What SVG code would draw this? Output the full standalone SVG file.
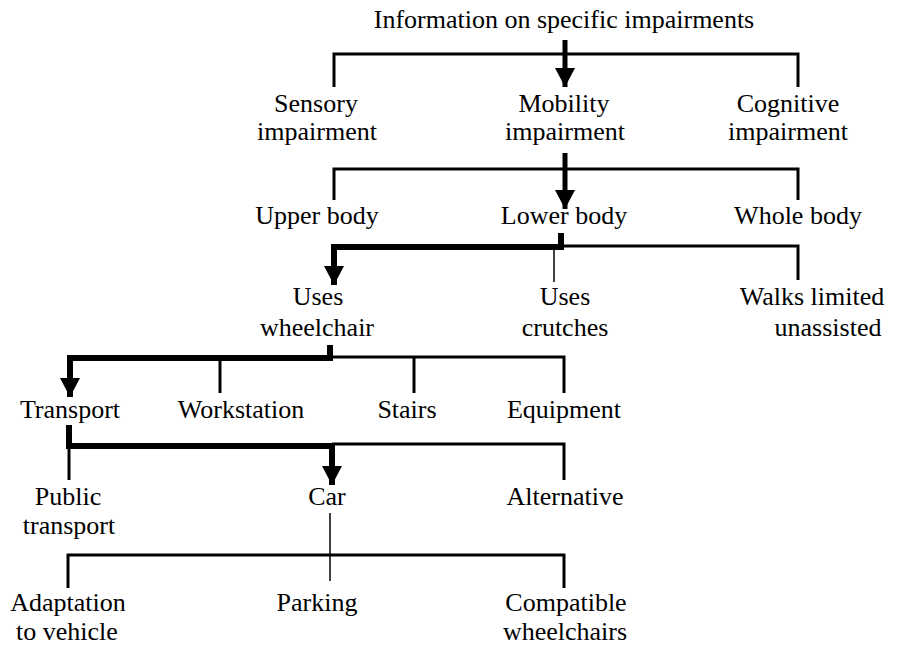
<svg xmlns="http://www.w3.org/2000/svg" width="907" height="646" viewBox="0 0 907 646">
  <style>
    text { font-family: "Liberation Serif", "Times New Roman", serif; font-size: 26px; fill: #000; text-anchor: middle; }
    .ln { fill: none; stroke: #000; stroke-width: 3; }
    .thin { fill: none; stroke: #000; stroke-width: 1.5; }
    .thick { fill: none; stroke: #000; stroke-width: 6; stroke-linejoin: miter; }
    .shaft { fill: none; stroke: #000; stroke-width: 5; }
  </style>
  <defs>
    <marker id="head" markerUnits="userSpaceOnUse" markerWidth="19" markerHeight="20" viewBox="0 0 19 20" refX="19" refY="10" orient="auto">
      <path d="M0,0 L19,10 L0,20 Z" fill="#000"/>
    </marker>
  </defs>
  <rect width="907" height="646" fill="#fff"/>
  <g id="connectors">
    <path class="ln" d="M334,87 V54 H798 V87"/>
    <path class="shaft" d="M565,40 V87" marker-end="url(#head)"/>
    <path class="ln" d="M334,200 V169 H798 V200"/>
    <path class="shaft" d="M565,153 V209" marker-end="url(#head)"/>
    <path class="ln" d="M561,246 H798 V280"/>
    <path class="thin" d="M554,249 V282"/>
    <path class="thick" d="M561,233 V247 H334 V285" marker-end="url(#head)"/>
    <path class="ln" d="M330,357 H564 V393"/>
    <path class="ln" d="M220,358 V393"/>
    <path class="ln" d="M414,357 V393"/>
    <path class="thick" d="M330,345 V358 H70 V397" marker-end="url(#head)"/>
    <path class="ln" d="M332,444 H564 V480"/>
    <path class="ln" d="M69,446 V480"/>
    <path class="thick" d="M69,425 V446 H332 V485" marker-end="url(#head)"/>
    <path class="thin" d="M330,513 V581"/>
    <path class="ln" d="M68,588 V555 H564 V588"/>
  </g>
  <g id="n-root"><text x="564" y="28">Information on specific impairments</text></g>
  <g id="n-sensory"><text x="316" y="112">Sensory</text><text x="317" y="140">impairment</text></g>
  <g id="n-mobility"><text x="564" y="112">Mobility</text><text x="565" y="140">impairment</text></g>
  <g id="n-cognitive"><text x="788" y="112">Cognitive</text><text x="788" y="140">impairment</text></g>
  <g id="n-upper"><text x="317" y="224">Upper body</text></g>
  <g id="n-lower"><text x="564" y="224">Lower body</text></g>
  <g id="n-whole"><text x="798" y="224">Whole body</text></g>
  <g id="n-wheelchair"><text x="318" y="305">Uses</text><text x="317" y="336">wheelchair</text></g>
  <g id="n-crutches"><text x="565" y="305">Uses</text><text x="565" y="336">crutches</text></g>
  <g id="n-walks"><text x="812" y="305">Walks limited</text><text x="828" y="336">unassisted</text></g>
  <g id="n-transport"><text x="70" y="418">Transport</text></g>
  <g id="n-workstation"><text x="241" y="418">Workstation</text></g>
  <g id="n-stairs"><text x="407" y="418">Stairs</text></g>
  <g id="n-equipment"><text x="564" y="418">Equipment</text></g>
  <g id="n-public"><text x="68" y="505">Public</text><text x="69" y="534">transport</text></g>
  <g id="n-car"><text x="327" y="505">Car</text></g>
  <g id="n-alternative"><text x="565" y="505">Alternative</text></g>
  <g id="n-adaptation"><text x="68" y="611">Adaptation</text><text x="67" y="640">to vehicle</text></g>
  <g id="n-parking"><text x="317" y="611">Parking</text></g>
  <g id="n-compatible"><text x="566" y="611">Compatible</text><text x="565" y="640">wheelchairs</text></g>
</svg>
